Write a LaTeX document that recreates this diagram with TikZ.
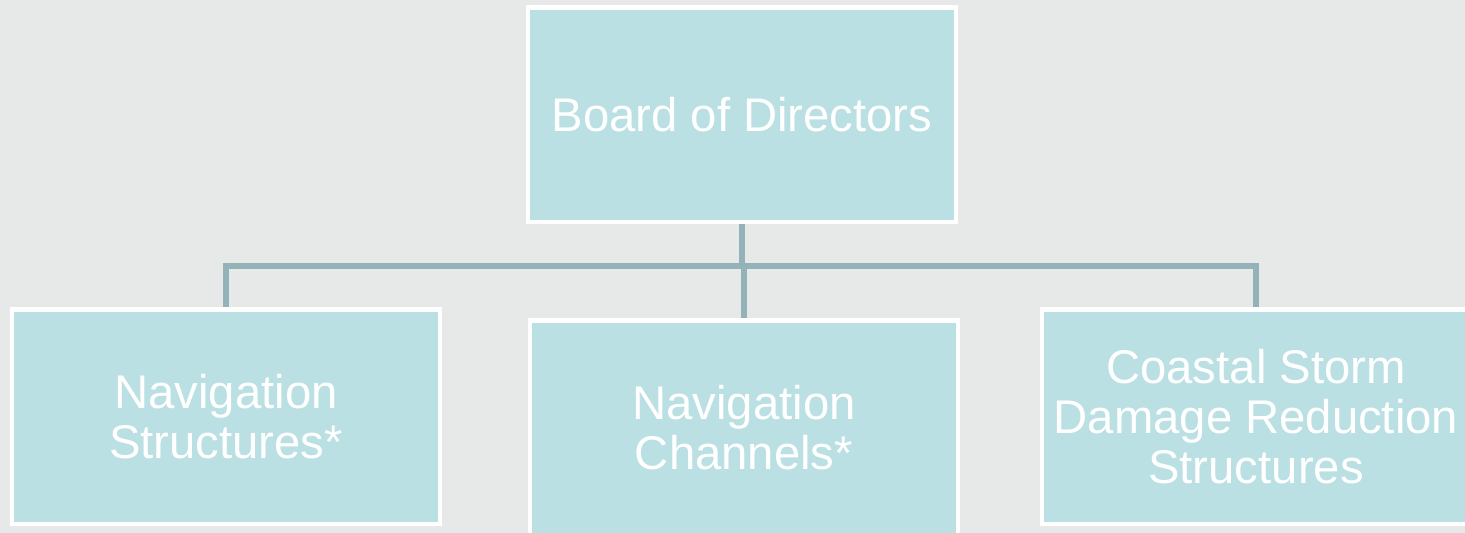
\documentclass[tikz,border=0pt]{standalone}
\usepackage{fontspec}
\setmainfont{Liberation Sans}
\usepackage{xcolor}
\usepackage{tikz}
\usetikzlibrary{positioning}
\definecolor{boardbg}{HTML}{E6E9E8}
\definecolor{unitfill}{HTML}{BAE0E3}
\definecolor{unitline}{HTML}{93B3B8}

\tikzset{
  unit/.style={draw=white, line width=2.3pt, fill=unitfill, text=white,
    minimum width=8.58cm, minimum height=4.3cm, align=center,
    font=\fontsize{26.9pt}{28.4pt}\selectfont},
  link/.style={unitline, line width=3.1pt}
}

\begin{document}
\begin{tikzpicture}[x=0.02cm, y=-0.02cm]
  % Page
  \clip (0,0) rectangle (1465,533);
  \fill[boardbg] (0,0) rectangle (1465,533);

  % Boxes
  \node[unit] (board) at (742,115) {Board of Directors};
  \node[unit] (nav) at (226,417) {Navigation\\Structures*};
  \node[unit] (chan) at (744,428) {Navigation\\Channels*};
  \node[unit] (storm) at (1256,417) {Coastal Storm\\Damage Reduction\\Structures};

  % Bus line
  \coordinate (bus) at (742,266);

  % Links
  \draw[link] (board.south) -- (bus);
  \draw[link] (chan.north |- bus) -- (chan.north);
  \draw[link] (bus) -| (nav.north);
  \draw[link] (bus) -| (storm.north);
\end{tikzpicture}
\end{document}
